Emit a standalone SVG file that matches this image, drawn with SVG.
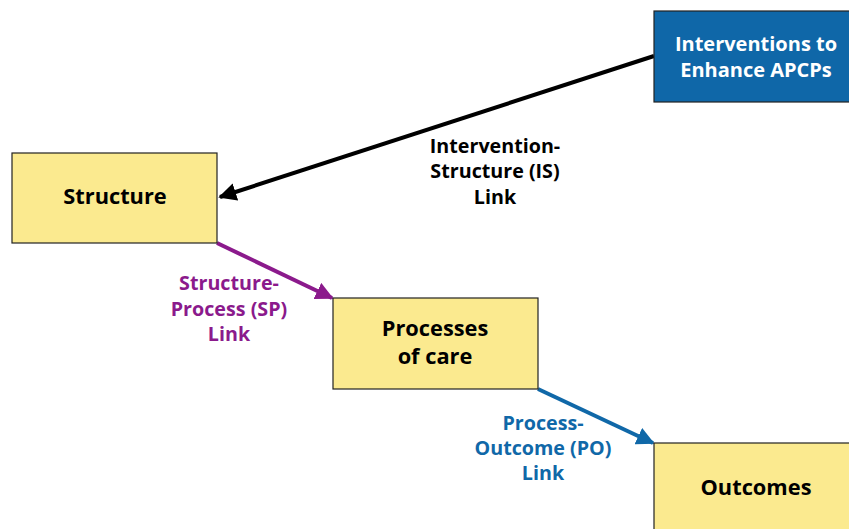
<svg xmlns="http://www.w3.org/2000/svg" width="849" height="529" viewBox="0 0 849 529">
<defs>
<style>
.box{fill:#FBEA8F;stroke:#222;stroke-width:1.2}
.blue{fill:#0F67A8;stroke:#222;stroke-width:1.2}
text{font-family:"Open Sans","Noto Sans","Liberation Sans",sans-serif;font-weight:bold;font-size:19.7px;text-anchor:middle}
.nt{fill:#000;font-size:21.8px}
.wt{fill:#fff;font-size:20px}
.lk{fill:#000}
.sp{fill:#8B1A8C}
.po{fill:#1068A8}
</style>
<marker id="ah-k" viewBox="0 0 10 10" refX="9" refY="5" markerWidth="4.5" markerHeight="4.5" markerUnits="strokeWidth" orient="auto"><path d="M0,0 L10,5 L0,10 z" fill="#000"/></marker>
<marker id="ah-p" viewBox="0 0 10 10" refX="9" refY="5" markerWidth="4.5" markerHeight="4.5" markerUnits="strokeWidth" orient="auto"><path d="M0,0 L10,5 L0,10 z" fill="#8B1A8C"/></marker>
<marker id="ah-b" viewBox="0 0 10 10" refX="9" refY="5" markerWidth="4.5" markerHeight="4.5" markerUnits="strokeWidth" orient="auto"><path d="M0,0 L10,5 L0,10 z" fill="#1068A8"/></marker>
</defs>
<rect width="849" height="529" fill="#fff"/>
<g id="connectors">
<line x1="654" y1="56" x2="220" y2="197" stroke="#000" stroke-width="4" marker-end="url(#ah-k)"/>
<line x1="217" y1="243" x2="332" y2="298" stroke="#8B1A8C" stroke-width="4" marker-end="url(#ah-p)"/>
<line x1="538" y1="389" x2="653" y2="443" stroke="#1068A8" stroke-width="4" marker-end="url(#ah-b)"/>
<text class="lk" x="495" y="153">Intervention-</text>
<text class="lk" x="495" y="178">Structure (IS)</text>
<text class="lk" x="495" y="204">Link</text>
<text class="sp" x="229" y="290">Structure-</text>
<text class="sp" x="229" y="316">Process (SP)</text>
<text class="sp" x="229" y="341">Link</text>
<text class="po" x="543" y="430">Process-</text>
<text class="po" x="543" y="455">Outcome (PO)</text>
<text class="po" x="543" y="480">Link</text>
</g>
<g id="interventions">
<rect class="blue" x="654" y="11" width="200" height="91"/>
<text class="wt" x="756" y="51">Interventions to</text>
<text class="wt" x="756" y="77">Enhance APCPs</text>
</g>
<g id="structure">
<rect class="box" x="12" y="153" width="205" height="90"/>
<text class="nt" x="115" y="204">Structure</text>
</g>
<g id="processes">
<rect class="box" x="333" y="298" width="205" height="91"/>
<text class="nt" x="435" y="336">Processes</text>
<text class="nt" x="435" y="364">of care</text>
</g>
<g id="outcomes">
<rect class="box" x="654" y="443" width="200" height="95"/>
<text class="nt" x="756" y="495">Outcomes</text>
</g>
</svg>
